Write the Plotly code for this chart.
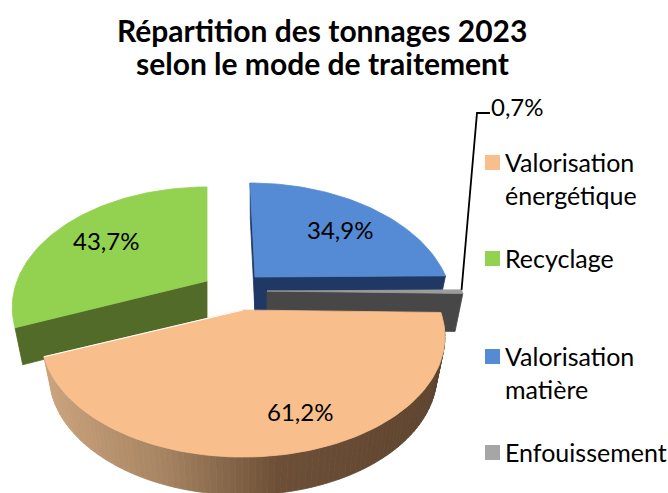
import math
import plotly.graph_objects as go

# --- data ---
categories = ["Valorisation matière", "Enfouissement", "Valorisation énergétique", "Recyclage"]
values = [34.9, 0.7, 61.2, 43.7]
legend_order = ["Valorisation<br>énergétique", "Recyclage", "Valorisation<br>matière", "Enfouissement"]
legend_colors = ["#F8BE8C", "#93D150", "#558BD4", "#A6A6A6"]
title_lines = ["Répartition des tonnages 2023", "selon le mode de traitement"]

FONT = "Lato, Carlito, Calibri, sans-serif"
W, H = 668, 493

# --- 3D pie projection styling ---
K = 0.22          # perspective strength
RY = 114.7        # ground-plane depth radius on screen
SHRINK = 0.96     # base of the wall is slightly narrower than its top
style = {
    "Recyclage": dict(ax=207, ay=281, R=190, depth=37, shear=0, top="#93D150", wall="#536B28"),
    "Valorisation matière": dict(ax=255, ay=277, R=191, depth=36, shear=27, top="#558BD4", wall="#1F3864"),
    "Enfouissement": dict(ax=267, ay=291, R=195, depth=38, shear=0, top="#9C9C9C", wall="#474747"),
    "Valorisation énergétique": dict(ax=243, ay=310, R=197, depth=38, shear=0, top="#F8BE8C", wall="#6A4D35"),
}
label_pos = {
    "Recyclage": (106, 240),
    "Valorisation matière": (340, 229),
    "Valorisation énergétique": (300, 411),
}

total = sum(values)
spans = {}
a = 0.0
for c, v in zip(categories, values):
    b = a + 360.0 * v / total
    spans[c] = (a, b)
    a = b


def rim(st, deg):
    t = math.radians(deg)
    u, v = math.sin(t), -math.cos(t)
    w = 1 - K * v
    return (st["ax"] + st["R"] * u / w + st["shear"] * (1 / w - 1), st["ay"] + RY * v / w)


def base(st, p):
    return (st["ax"] + (p[0] - st["ax"]) * SHRINK, p[1] + st["depth"])


def angles(a0, a1, step=1.5):
    n = max(2, int((a1 - a0) / step) + 1)
    return [a0 + (a1 - a0) * i / (n - 1) for i in range(n)]


def poly(fig, pts, color, line=None):
    xs = [p[0] for p in pts] + [pts[0][0]]
    ys = [p[1] for p in pts] + [pts[0][1]]
    fig.add_trace(go.Scatter(x=xs, y=ys, mode="lines", fill="toself", fillcolor=color,
                             line=dict(color=line or color, width=0.8), hoverinfo="skip", showlegend=False))


def lerp_color(x):
    stops = [(0.0, (0xCB, 0xA3, 0x7D)), (0.30, (0xA6, 0x84, 0x62)), (0.58, (0x6E, 0x50, 0x38)), (1.0, (0x5E, 0x44, 0x2F))]
    for (t0, c0), (t1, c1) in zip(stops, stops[1:]):
        if x <= t1:
            f = max(0, (x - t0) / (t1 - t0))
            return "rgb(%d,%d,%d)" % tuple(c0[i] + (c1[i] - c0[i]) * f for i in range(3))
    return "rgb(94,68,47)"


def face(fig, c, deg):
    st = style[c]
    ap = (st["ax"], st["ay"])
    r = rim(st, deg)
    poly(fig, [ap, r, base(st, r), base(st, ap)], st["wall"])


fig = go.Figure()

# Recyclage
c = "Recyclage"
a0, a1 = spans[c]
st = style[c]
face(fig, c, a0)
poly(fig, [(st["ax"], st["ay"])] + [rim(st, d) for d in angles(a0, a1)], st["top"])

# Valorisation matière
c = "Valorisation matière"
a0, a1 = spans[c]
st = style[c]
face(fig, c, a0)
face(fig, c, a1)
poly(fig, [(st["ax"], st["ay"])] + [rim(st, d) for d in angles(a0, a1)], st["top"])

# Enfouissement
c = "Enfouissement"
a0, a1 = spans[c]
st = style[c]
face(fig, c, a1)
poly(fig, [(st["ax"], st["ay"])] + [rim(st, d) for d in angles(a0, a1, 0.5)], st["top"])

# Valorisation énergétique
c = "Valorisation énergétique"
a0, a1 = spans[c]
st = style[c]
angs = angles(a0, a1)
tops = [rim(st, d) for d in angs]
xmin, xmax = min(p[0] for p in tops), max(p[0] for p in tops)
for p, q in zip(tops, tops[1:]):
    col = lerp_color(((p[0] + q[0]) / 2 - xmin) / (xmax - xmin))
    poly(fig, [p, q, base(st, q), base(st, p)], col)
poly(fig, [(st["ax"], st["ay"])] + tops, st["top"])
# thin white seam along the Recyclage side
fig.add_trace(go.Scatter(x=[st["ax"], tops[-1][0]], y=[st["ay"], tops[-1][1]], mode="lines",
                         line=dict(color="white", width=1.2), hoverinfo="skip", showlegend=False))

# leader line for the small slice
corner = rim(style["Enfouissement"], spans["Enfouissement"][0])
fig.add_trace(go.Scatter(x=[corner[0], 477, 490], y=[corner[1], 113, 113], mode="lines",
                         line=dict(color="black", width=1.8), hoverinfo="skip", showlegend=False))


def fmt(v):
    return f"{v:.1f}".replace(".", ",") + "%"


annotations = []
for c, v in zip(categories, values):
    if c in label_pos:
        x, y = label_pos[c]
        annotations.append(dict(x=x, y=y, text=fmt(v), xanchor="center", yanchor="middle", font_size=24))
annotations.append(dict(x=489, y=106, text=fmt(values[1]), xanchor="left", yanchor="middle", font_size=24))

# legend
legend_y = [163, 259, 357, 453]
shapes = []
for name, col, y in zip(legend_order, legend_colors, legend_y):
    shapes.append(dict(type="rect", x0=485, x1=500, y0=y - 8, y1=y + 7, fillcolor=col, line=dict(width=0),
                       xref="x", yref="y"))
    annotations.append(dict(x=503, y=y - 18, text=name, xanchor="left", yanchor="top", align="left", font_size=25))

# title (two lines placed individually for the reference's tight line spacing)
for line, y in zip(title_lines, [30, 63]):
    annotations.append(dict(x=322, y=y, text=f"<b>{line}</b>", xanchor="center", yanchor="middle", font_size=30))

for an in annotations:
    size = an.pop("font_size")
    an.update(xref="x", yref="y", showarrow=False, font=dict(family=FONT, size=size, color="black"))

fig.update_layout(
    width=W, height=H, autosize=False,
    margin=dict(l=0, r=0, t=0, b=0, pad=0),
    paper_bgcolor="white", plot_bgcolor="white",
    showlegend=False,
    font=dict(family=FONT, size=24, color="black"),
    xaxis=dict(range=[0, W], visible=False, fixedrange=True),
    yaxis=dict(range=[H, 0], visible=False, fixedrange=True),
    shapes=shapes,
    annotations=annotations,
)

fig.write_html("out.html", config={"displayModeBar": False},
               post_script="document.body.style.margin='0';")
